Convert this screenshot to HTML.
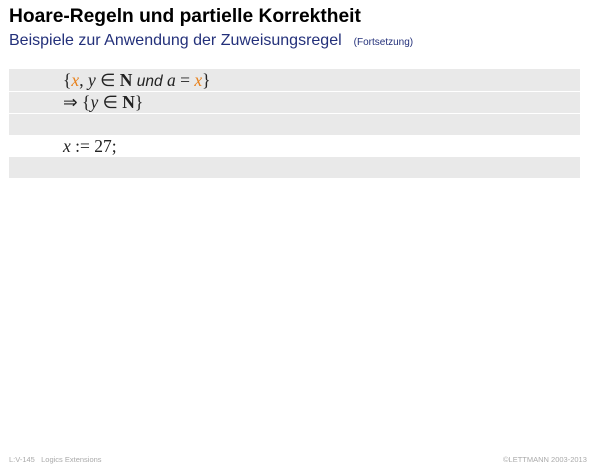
<!DOCTYPE html>
<html><head><meta charset="utf-8"><style>
body{margin:0;width:600px;height:467px;background:#fff;position:relative;overflow:hidden;font-family:"Liberation Sans",sans-serif}
.a{position:absolute;white-space:nowrap}
.r{position:absolute;left:9px;width:571px;background:#e9e9e9}
.m{font-family:"Liberation Serif",serif;font-size:17.5px;color:#222}
.o{color:#e8801a;font-style:italic}
i{font-style:italic}
</style></head><body>
<div class="a" style="left:9px;top:6px;font-size:19.2px;font-weight:bold;color:#000">Hoare-Regeln und partielle Korrektheit</div>
<div class="a" style="left:9px;top:32px;font-size:16px;color:#23307a">Beispiele zur Anwendung der Zuweisungsregel<span style="font-size:10px;margin-left:12px">(Fortsetzung)</span></div>
<div class="r" style="top:69px;height:22px"></div>
<div class="r" style="top:92px;height:21px"></div>
<div class="r" style="top:114px;height:21px"></div>
<div class="r" style="top:157px;height:21px"></div>
<div class="a m" style="left:63px;top:70px">{<span class="o">x</span>, <i>y</i> ∈ <b>N</b> <i style="font-family:'Liberation Sans',sans-serif;font-size:15.5px">und</i> <i>a</i> = <span class="o">x</span>}</div>
<div class="a m" style="left:63px;top:92px">⇒ {<i>y</i> ∈ <b>N</b>}</div>
<div class="a m" style="left:63px;top:136px"><i>x</i> := 27;</div>
<div class="a" style="left:9px;top:455px;font-size:7.5px;color:#aaa">L:V-145 &nbsp; Logics Extensions</div>
<div class="a" style="left:503px;top:455px;font-size:7.5px;color:#aaa">©LETTMANN 2003-2013</div>
</body></html>
